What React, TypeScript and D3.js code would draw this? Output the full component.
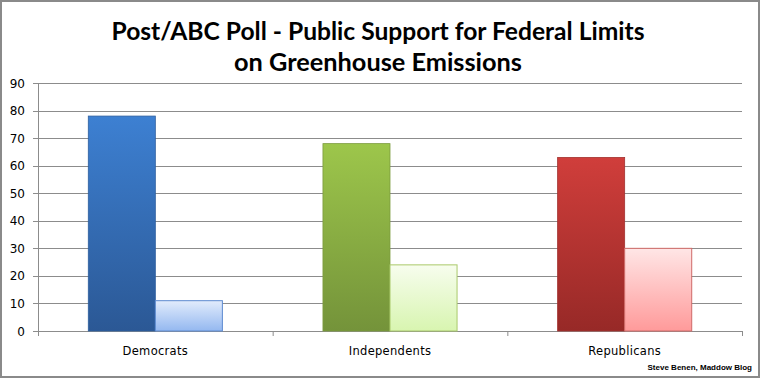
import React from "react";
import * as d3 from "d3";

const categories = ["Democrats", "Independents", "Republicans"];
const supportValues = [78, 68, 63];
const secondValues = [11, 24, 30];
const yTicks = [0, 10, 20, 30, 40, 50, 60, 70, 80, 90];
const titleLines = [
  "Post/ABC Poll - Public Support for Federal Limits",
  "on Greenhouse Emissions",
];
const credit = "Steve Benen, Maddow Blog";

const darkGrad = [
  ["#3d80d2", "#2b5895"],
  ["#9dc64b", "#74933a"],
  ["#d03e3b", "#972927"],
];
const lightGrad = [
  ["#e2ecfc", "#94b8f0"],
  ["#f7fdee", "#d8f5b0"],
  ["#ffe6e6", "#ff9a9a"],
];
const darkStroke = ["#2e5f9e", "#7c9c3e", "#a33230"];
const lightStroke = ["#5c8ad0", "#a9c96a", "#cf6a68"];

const W = 760;
const H = 378;
const M = { left: 38, right: 742, top: 83, bottom: 331 };

export default function App() {
  const x = d3.scaleBand<string>().domain(categories).range([M.left, M.right]).paddingInner(0).paddingOuter(0);
  const y = d3.scaleLinear().domain([0, 90]).range([M.bottom, M.top]);
  const bw = x.bandwidth();
  const barW = bw / 3.5;
  const ticksX = [M.left, ...categories.map((c) => (x(c) as number) + bw)];

  return (
    <div style={{ position: "absolute", left: 0, top: 0 }}>
      <svg width={W} height={H} style={{ display: "block", background: "#fff" }}>
        <defs>
          {categories.map((c, i) => (
            <React.Fragment key={c}>
              <linearGradient id={`dark${i}`} x1="0" y1="0" x2="0" y2="1">
                <stop offset="0%" stopColor={darkGrad[i][0]} />
                <stop offset="100%" stopColor={darkGrad[i][1]} />
              </linearGradient>
              <linearGradient id={`light${i}`} x1="0" y1="0" x2="0" y2="1">
                <stop offset="0%" stopColor={lightGrad[i][0]} />
                <stop offset="100%" stopColor={lightGrad[i][1]} />
              </linearGradient>
            </React.Fragment>
          ))}
        </defs>
        <rect x={1} y={1} width={W - 2} height={H - 2} fill="#fff" stroke="#8a8a8a" strokeWidth={2} />
        {titleLines.map((t, i) => (
          <text
            key={t}
            x={378}
            y={40 + i * 31}
            textAnchor="middle"
            fontFamily="Lato, 'Open Sans', sans-serif"
            fontWeight={700}
            fontSize={25}
            fill="#000"
            textLength={i === 0 ? 533 : 288}
            lengthAdjust="spacingAndGlyphs"
          >
            {t}
          </text>
        ))}
        {yTicks.map((t) => (
          <g key={t}>
            {t > 0 && (
              <line x1={M.left} x2={M.right} y1={Math.round(y(t)) + 0.5} y2={Math.round(y(t)) + 0.5} stroke="#8c8c8c" strokeWidth={1} />
            )}
            <line x1={M.left - 5} x2={M.left} y1={Math.round(y(t)) + 0.5} y2={Math.round(y(t)) + 0.5} stroke="#8c8c8c" />
            <text
              x={25}
              y={y(t) + 4.5}
              textAnchor="end"
              fontFamily="'DejaVu Sans', Verdana, sans-serif"
              fontSize={12}
              fill="#000"
            >
              {t}
            </text>
          </g>
        ))}
        <line x1={M.left + 0.5} x2={M.left + 0.5} y1={M.top} y2={M.bottom} stroke="#8c8c8c" />
        <line x1={M.left} x2={M.right} y1={M.bottom + 0.5} y2={M.bottom + 0.5} stroke="#8c8c8c" />
        {ticksX.map((tx, i) => (
          <line key={i} x1={tx + 0.5} x2={tx + 0.5} y1={M.bottom} y2={M.bottom + 5} stroke="#8c8c8c" />
        ))}
        {categories.map((c, i) => {
          const x0 = (x(c) as number) + (bw - 2 * barW) / 2;
          return (
            <g key={c}>
              <rect
                x={x0}
                y={y(supportValues[i])}
                width={barW}
                height={y(0) - y(supportValues[i])}
                fill={`url(#dark${i})`}
                stroke={darkStroke[i]}
                strokeWidth={0.8}
              />
              <rect
                x={x0 + barW}
                y={y(secondValues[i])}
                width={barW}
                height={y(0) - y(secondValues[i])}
                fill={`url(#light${i})`}
                stroke={lightStroke[i]}
                strokeWidth={1}
              />
              <text
                x={(x(c) as number) + bw / 2}
                y={355}
                textAnchor="middle"
                fontFamily="'DejaVu Sans', Verdana, sans-serif"
                fontSize={11.5}
                letterSpacing={0.3}
                fill="#000"
              >
                {c}
              </text>
            </g>
          );
        })}
        <text
          x={752}
          y={370}
          textAnchor="end"
          fontFamily="'Liberation Sans', Arial, sans-serif"
          fontWeight={700}
          fontSize={8}
          fill="#000"
        >
          {credit}
        </text>
      </svg>
    </div>
  );
}
